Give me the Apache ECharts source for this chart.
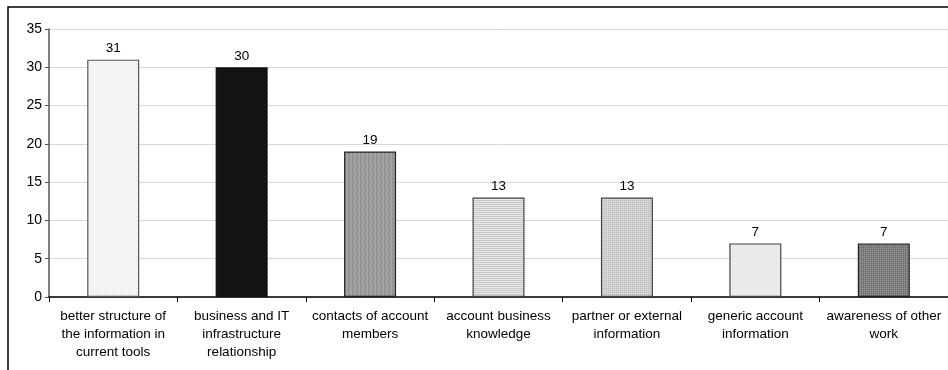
<!DOCTYPE html>
<html>
<head>
<meta charset="utf-8">
<script src="https://cdn.jsdelivr.net/npm/echarts@6/dist/echarts.min.js"></script>
<style>
  html, body { margin: 0; padding: 0; background: #fff; }
  #chart { width: 948px; height: 370px; }
</style>
</head>
<body>
<div id="chart"></div>
<script>
// Categories and counts
const categories = [
  'better structure of\nthe information in\ncurrent tools',
  'business and IT\ninfrastructure\nrelationship',
  'contacts of account\nmembers',
  'account business\nknowledge',
  'partner or external\ninformation',
  'generic account\ninformation',
  'awareness of other\nwork'
];
const counts = [31, 30, 19, 13, 13, 7, 7];
const yTicks = { min: 0, max: 35, interval: 5 };

// Small repeating fill textures, one per bar
function makePattern(kind) {
  const c = document.createElement('canvas');
  c.width = 4; c.height = 4;
  const g = c.getContext('2d');
  const fill = (col) => { g.fillStyle = col; g.fillRect(0, 0, 4, 4); };
  const px = (col, pts) => { g.fillStyle = col; pts.forEach(p => g.fillRect(p[0], p[1], 1, 1)); };
  switch (kind) {
    case 0: fill('#f6f6f6'); px('#e4e4e4', [[0,0],[2,2]]); break;
    case 1: fill('#101010'); px('#2a2a2a', [[0,0],[2,2]]); break;
    case 2: fill('#9e9e9e'); px('#868686', [[0,0],[1,1],[0,2],[1,3]]); px('#b8b8b8', [[1,0],[3,2]]); break;
    case 3: fill('#e6e6e6'); g.fillStyle = '#c8c8c8'; g.fillRect(0, 0, 4, 1); g.fillRect(0, 2, 4, 1); px('#f2f2f2', [[1,1],[3,3]]); break;
    case 4: fill('#d2d2d2'); px('#bababa', [[0,0],[2,0],[0,2],[2,2]]); px('#e4e4e4', [[1,1],[3,3]]); break;
    case 5: fill('#e6e6e6'); px('#f8f8f8', [[1,1],[3,3],[1,3],[3,1]]); break;
    case 6: fill('#7c7c7c'); px('#9a9a9a', [[0,0],[2,0],[0,2],[2,2]]); px('#606060', [[1,1],[3,3]]); break;
  }
  return { image: c, repeat: 'repeat' };
}
const borderColors = ['#555', '#111', '#222', '#444', '#444', '#444', '#222'];
const FONT = 'Liberation Sans, Arial, sans-serif';

const chart = echarts.init(document.getElementById('chart'), null, { renderer: 'canvas' });
chart.setOption({
  animation: false,
  backgroundColor: '#fff',
  textStyle: { fontFamily: FONT },
  graphic: [{
    type: 'rect',
    shape: { x: 8, y: 7, width: 1000, height: 400 },
    style: { fill: 'none', stroke: '#000', lineWidth: 1.5 },
    z: 100
  }],
  grid: { left: 49, top: 29, width: 903, height: 268 },
  xAxis: {
    type: 'category',
    data: categories,
    axisLine: { lineStyle: { color: '#000', width: 1.5 } },
    axisTick: { show: true, length: 5, alignWithLabel: false, lineStyle: { color: '#000' } },
    axisLabel: {
      interval: 0, color: '#000', fontSize: 13.5, lineHeight: 18, margin: 10,
      fontFamily: FONT
    }
  },
  yAxis: {
    type: 'value',
    min: yTicks.min, max: yTicks.max, interval: yTicks.interval,
    axisLine: { show: true, lineStyle: { color: '#555', width: 1.5 } },
    axisTick: { show: true, length: 4, lineStyle: { color: '#555' } },
    axisLabel: { color: '#000', fontSize: 14, margin: 7, fontFamily: FONT },
    splitLine: { show: true, lineStyle: { color: '#d8d8d8', width: 1 } }
  },
  series: [{
    type: 'bar',
    barWidth: 52,
    data: counts.map((v, i) => ({
      value: v,
      itemStyle: { color: makePattern(i), borderColor: borderColors[i], borderWidth: 1.2 }
    })),
    label: {
      show: true, position: 'top', distance: 4,
      color: '#000', fontSize: 13.5, fontFamily: FONT
    }
  }]
});
</script>
</body>
</html>
